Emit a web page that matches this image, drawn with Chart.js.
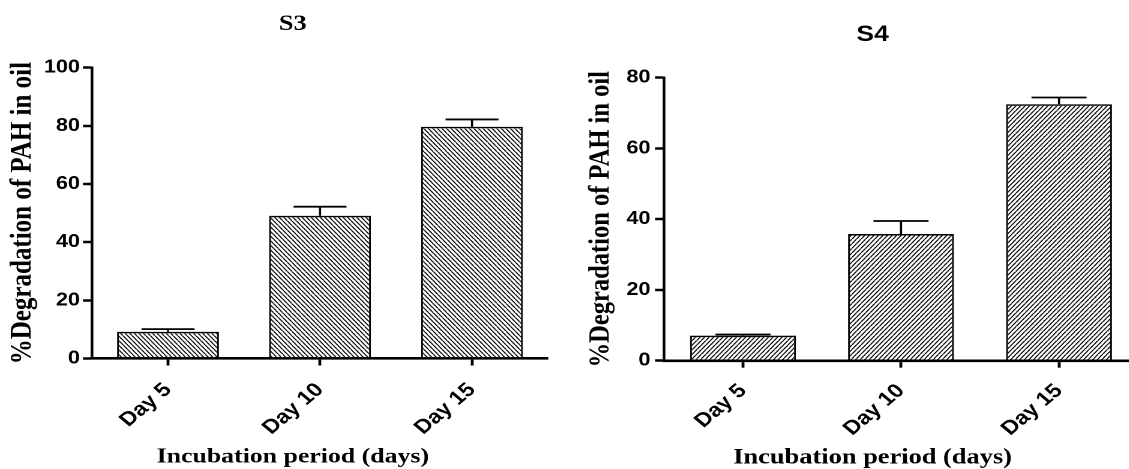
<!DOCTYPE html>
<html>
<head>
<meta charset="utf-8">
<script src="https://cdn.jsdelivr.net/npm/chart.js@4.4.1/dist/chart.umd.min.js"></script>
<style>
  html, body { margin: 0; padding: 0; background: #fff; width: 1129px; height: 469px; overflow: hidden; }
  .wrap { position: relative; width: 1129px; height: 469px; overflow: hidden; }
  canvas.stretch { position: absolute; top: 0; height: 469px; transform: scaleX(1.2); transform-origin: 0 0; }
</style>
</head>
<body>
<div class="wrap">
  <canvas id="s3" class="stretch" width="488" height="469" style="left:0px;width:488px;height:469px"></canvas>
  <canvas id="s4" class="stretch" width="521" height="469" style="left:560px;width:521px;height:469px"></canvas>
</div>
<script>
// ---- data ----
const categories = ['Day 5', 'Day 10', 'Day 15'];
const s3Values = [9.2, 49.1, 79.7];
const s3Errors = [0.9, 3.1, 2.5];
const s4Values = [7.1, 35.8, 72.5];
const s4Errors = [0.3, 3.7, 1.9];
const s3Title = 'S3';
const s4Title = 'S4';
const yTitle = '%Degradation of PAH in oil';
const xTitle = 'Incubation period (days)';

const SERIF = '"Liberation Serif", "Times New Roman", Times, serif';
const SANS = '"Liberation Sans", Arial, Helvetica, sans-serif';

function makeHatch(dir, period, rise, lineW) {
  const k = 5;
  const a = Math.round(period * k);
  const b = Math.round(period * rise * k);
  const c = document.createElement('canvas');
  c.width = a; c.height = b;
  const g = c.getContext('2d');
  g.strokeStyle = '#111';
  g.lineWidth = lineW * k;
  g.beginPath();
  for (let o = -a; o <= a; o += a) {
    if (dir === 'back') { g.moveTo(o, 0); g.lineTo(o + a, b); }
    else { g.moveTo(o, b); g.lineTo(o + a, 0); }
  }
  g.stroke();
  const p = g.createPattern(c, 'repeat');
  p.setTransform(new DOMMatrix().scale(1 / k));
  return p;
}

const errorBars = {
  id: 'errorBars',
  afterDatasetsDraw(chart) {
    const ctx = chart.ctx;
    const ds = chart.data.datasets[0];
    const meta = chart.getDatasetMeta(0);
    const y = chart.scales.y;
    ctx.save();
    ctx.strokeStyle = '#000';
    ctx.lineWidth = 1.8;
    meta.data.forEach((bar, i) => {
      const top = y.getPixelForValue(ds.data[i]);
      const hi = y.getPixelForValue(ds.data[i] + ds.errors[i]);
      const half = bar.width * 0.26;
      ctx.beginPath();
      ctx.moveTo(bar.x, top);
      ctx.lineTo(bar.x, hi);
      ctx.moveTo(bar.x - half, hi);
      ctx.lineTo(bar.x + half, hi);
      ctx.stroke();
    });
    ctx.restore();
  }
};

function build(id, opt) {
  return new Chart(document.getElementById(id), {
    type: 'bar',
    data: {
      labels: categories,
      datasets: [{
        data: opt.values,
        errors: opt.errors,
        backgroundColor: makeHatch(opt.hatch, 3.8, 1.2, 1.1),
        borderColor: '#000',
        borderWidth: 1.5,
        barPercentage: 0.67,
        categoryPercentage: 1.0
      }]
    },
    options: {
      responsive: false,
      devicePixelRatio: 2,
      animation: false,
      layout: { padding: 0 },
      plugins: {
        legend: { display: false },
        tooltip: { enabled: false },
        title: {
          display: true,
          text: opt.title,
          color: '#000',
          font: { family: opt.titleFamily, size: 22, weight: 'bold', lineHeight: 1.2 },
          padding: { top: opt.titlePadTop, bottom: opt.titlePadBottom }
        },
        subtitle: {
          display: true,
          position: 'bottom',
          text: xTitle,
          color: '#000',
          font: { family: SERIF, size: opt.xTitleSize, weight: 'bold', lineHeight: opt.xTitleLH },
          padding: { top: opt.subPadTop, bottom: 0 }
        }
      },
      scales: {
        x: {
          grid: { display: true, drawOnChartArea: false, drawTicks: true, offset: false,
                  tickLength: 7, tickWidth: 2.4, tickColor: '#000' },
          border: { display: true, color: '#000', width: 2.6 },
          ticks: { color: '#000', maxRotation: 45, minRotation: 45, padding: opt.xTickPad,
                   font: { family: SANS, size: 19.5, weight: 'bold' } },
          afterFit(s) { s.height = 80; s.paddingRight = opt.padRight; }
        },
        y: {
          min: 0, max: opt.max,
          grid: { display: true, drawOnChartArea: false, drawTicks: true,
                  tickLength: 7.5, tickWidth: 2.5, tickColor: '#000' },
          border: { display: true, color: '#000', width: 2.3 },
          ticks: { stepSize: 20, color: '#000', padding: opt.yTickPad,
                   font: { family: SANS, size: 18, weight: 'bold' } },
          title: {
            display: true, text: yTitle, color: '#000',
            font: { family: SERIF, size: opt.yTitleSize, weight: 'bold', lineHeight: 1.2 },
            padding: { top: opt.yTitlePad, bottom: 0 }
          },
          afterFit(s) { s.width = opt.yWidth; }
        }
      }
    },
    plugins: [errorBars]
  });
}

build('s3', {
  values: s3Values, errors: s3Errors, hatch: 'back', title: s3Title, titleFamily: SERIF,
  max: 100, titlePadTop: 11.3, titlePadBottom: 30, xTitleSize: 21.5, xTitleLH: 1.1,
  subPadTop: 6.85, xTickPad: 13, padRight: 31.33, yTickPad: 2.5,
  yTitleSize: 25, yTitlePad: 4.2, yWidth: 76.67
});
build('s4', {
  values: s4Values, errors: s4Errors, hatch: 'fwd', title: s4Title, titleFamily: SANS,
  max: 80, titlePadTop: 21.8, titlePadBottom: 29.5, xTitleSize: 22, xTitleLH: 1.0,
  subPadTop: 6.3, xTickPad: 11.8, padRight: 39.33, yTickPad: 3.8,
  yTitleSize: 24.5, yTitlePad: 19.5, yWidth: 86.67
});
</script>
</body>
</html>
